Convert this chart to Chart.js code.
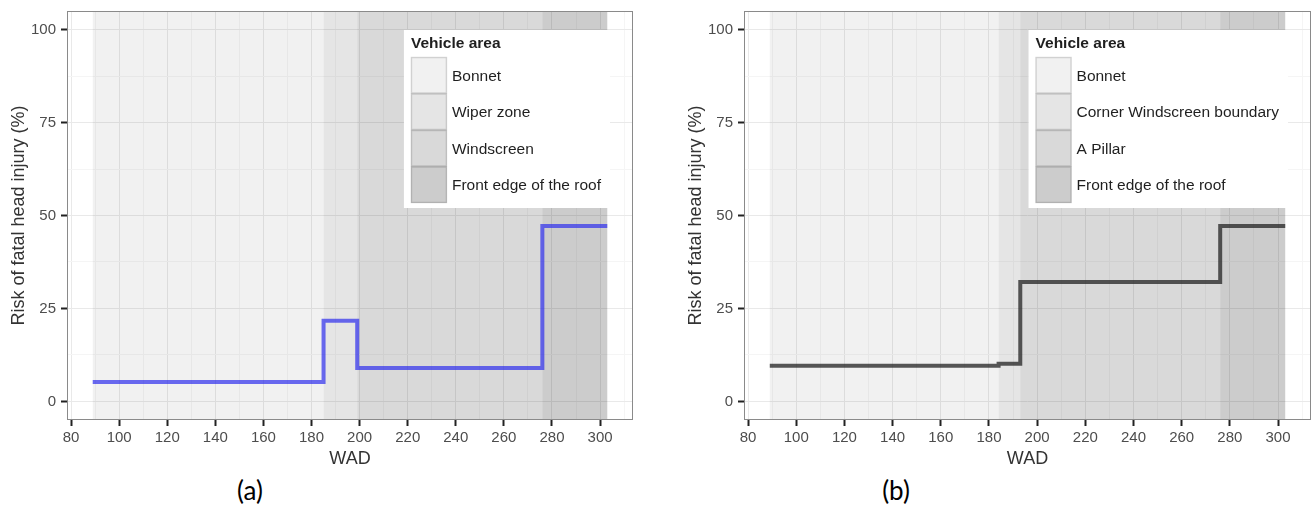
<!DOCTYPE html>
<html>
<head>
<meta charset="utf-8">
<script src="https://cdn.jsdelivr.net/npm/chart.js@4.4.1/dist/chart.umd.min.js"></script>
<style>
  body { margin: 0; width: 1314px; height: 507px; background: #fff; position: relative; overflow: hidden; }
  canvas { position: absolute; top: 0; }
  #chartA { left: 0; }
  #chartB { left: 677px; }
  .tag { position: absolute; top: 475px; width: 60px; margin-left: -30px; text-align: center;
         font: 26px Lato, "Open Sans", sans-serif; color: #000; line-height: 30px; }
</style>
</head>
<body>
<canvas id="chartA" width="650" height="470"></canvas>
<canvas id="chartB" width="637" height="470"></canvas>
<div class="tag" style="left:250px">(a)</div>
<div class="tag" style="left:896px">(b)</div>
<script>
// axis ticks
const wadTicks = [80, 100, 120, 140, 160, 180, 200, 220, 240, 260, 280, 300];
const wadMinor = [90, 110, 130, 150, 170, 190, 210, 230, 250, 270, 290, 310];
const riskTicks = [0, 25, 50, 75, 100];
const riskMinor = [12.5, 37.5, 62.5, 87.5];

// (a) vehicle areas along the wrap-around distance and the step risk curve
const areasA = ['Bonnet', 'Wiper zone', 'Windscreen', 'Front edge of the roof'];
const edgesA = [89, 185, 199, 276, 303];
const wadA = [89, 185, 199, 276, 303];
const riskA = [5.2, 21.7, 9.0, 47.2, 47.2];

// (b)
const areasB = ['Bonnet', 'Corner Windscreen boundary', 'A Pillar', 'Front edge of the roof'];
const edgesB = [89, 184, 193, 276, 303];
const wadB = [89, 184, 193, 276, 303];
const riskB = [9.6, 10.1, 32.1, 47.2, 47.2];

const shades = ['rgba(0,0,0,0.055)', 'rgba(0,0,0,0.1)', 'rgba(0,0,0,0.15)', 'rgba(0,0,0,0.2)'];
const FONT = '"Liberation Sans", Arial, sans-serif';

// translucent bands behind the curve, one per vehicle area
const areaBands = {
  id: 'areaBands',
  beforeDatasetsDraw(chart, args, opts) {
    const {ctx, chartArea, scales: {x}} = chart;
    ctx.save();
    for (let i = 0; i < opts.edges.length - 1; i++) {
      const x0 = x.getPixelForValue(opts.edges[i]);
      const x1 = x.getPixelForValue(opts.edges[i + 1]);
      ctx.fillStyle = shades[i];
      ctx.fillRect(x0, chartArea.top, x1 - x0, chartArea.bottom - chartArea.top);
    }
    ctx.restore();
  }
};

// boxed key in the top right corner of the panel
const areaLegend = {
  id: 'areaLegend',
  afterDatasetsDraw(chart, args, opts) {
    const {ctx, chartArea} = chart;
    const keyW = 36, keyH = 36.5;
    ctx.save();
    ctx.font = '15.5px ' + FONT;
    const textW = Math.max(...opts.labels.map(t => ctx.measureText(t).width));
    const w = 7 + keyW + 5 + textW + 9;
    const h = 27 + keyH * opts.labels.length + 5;
    const left = chartArea.right - 23 - w;
    const top = chartArea.top + 19;
    ctx.fillStyle = '#fff';
    ctx.fillRect(left, top, w, h);
    ctx.textBaseline = 'middle';
    ctx.fillStyle = '#1f1f1f';
    ctx.font = 'bold 15.5px ' + FONT;
    ctx.fillText(opts.title, left + 7, top + 14);
    ctx.font = '15.5px ' + FONT;
    opts.labels.forEach((label, i) => {
      const y = top + 27 + i * keyH;
      ctx.fillStyle = shades[i];
      ctx.fillRect(left + 7, y, keyW, keyH);
      ctx.strokeStyle = 'rgba(0,0,0,0.13)';
      ctx.lineWidth = 1.5;
      ctx.strokeRect(left + 7.5, y + 0.5, keyW - 1, keyH - 1);
      ctx.fillStyle = '#1f1f1f';
      ctx.fillText(label, left + 7 + keyW + 5, y + keyH / 2 + 1);
    });
    ctx.restore();
  }
};

// grey frame round the panel
const panelFrame = {
  id: 'panelFrame',
  afterDraw(chart) {
    const {ctx, chartArea: a} = chart;
    ctx.save();
    ctx.strokeStyle = '#8a8a8a';
    ctx.lineWidth = 1;
    ctx.strokeRect(Math.round(a.left) + 0.5, Math.round(a.top) + 0.5,
      Math.round(a.right - a.left) - 1, Math.round(a.bottom - a.top) - 1);
    ctx.restore();
  }
};

const isMajor = (list, v) => list.includes(v);

function makePanel(id, areas, edges, wad, risk, lineColour, padRight) {
  return new Chart(document.getElementById(id), {
    type: 'line',
    data: {
      datasets: [{
        data: wad.map((x, i) => ({x: x, y: risk[i]})),
        stepped: 'before',
        borderColor: lineColour,
        borderWidth: 4,
        borderJoinStyle: 'miter',
        pointRadius: 0,
        fill: false
      }]
    },
    options: {
      responsive: false,
      animation: false,
      devicePixelRatio: 1,
      layout: { padding: { top: 11, right: padRight, bottom: 0, left: 0 } },
      plugins: {
        legend: { display: false },
        tooltip: { enabled: false },
        areaBands: { edges: edges },
        areaLegend: { title: 'Vehicle area', labels: areas }
      },
      scales: {
        x: {
          type: 'linear', min: 78.3, max: 313.7,
          afterBuildTicks: s => { s.ticks = wadTicks.concat(wadMinor).sort((a, b) => a - b).map(v => ({value: v})); },
          afterFit: s => { s.height = 50; s.paddingLeft = 0; s.paddingRight = 0; },
          ticks: {
            callback: v => isMajor(wadTicks, v) ? v : '',
            color: '#4d4d4d', font: { family: FONT, size: 15 },
            padding: 3, maxRotation: 0, autoSkip: false
          },
          grid: {
            color: c => isMajor(wadTicks, c.tick && c.tick.value) ? '#e9e9e9' : '#f5f5f5',
            tickColor: c => isMajor(wadTicks, c.tick && c.tick.value) ? '#222' : 'rgba(0,0,0,0)',
            tickLength: 6, tickWidth: 2, lineWidth: 1
          },
          border: { display: false },
          title: { display: true, text: 'WAD', color: '#333', font: { family: FONT, size: 18 }, padding: { top: 0, bottom: 0 } }
        },
        y: {
          type: 'linear', min: -5, max: 105,
          afterBuildTicks: s => { s.ticks = riskTicks.concat(riskMinor).sort((a, b) => a - b).map(v => ({value: v})); },
          afterFit: s => { s.width = 67; s.paddingTop = 0; s.paddingBottom = 0; },
          ticks: {
            callback: v => isMajor(riskTicks, v) ? v : '',
            color: '#4d4d4d', font: { family: FONT, size: 15 },
            padding: 5, autoSkip: false
          },
          grid: {
            color: c => isMajor(riskTicks, c.tick && c.tick.value) ? '#e9e9e9' : '#f5f5f5',
            tickColor: c => isMajor(riskTicks, c.tick && c.tick.value) ? '#222' : 'rgba(0,0,0,0)',
            tickLength: 6, tickWidth: 2, lineWidth: 1
          },
          border: { display: false },
          title: { display: true, text: 'Risk of fatal head injury (%)', color: '#333', font: { family: FONT, size: 18 }, padding: { top: 8, bottom: 0 } }
        }
      }
    },
    plugins: [areaBands, areaLegend, panelFrame]
  });
}

makePanel('chartA', areasA, edgesA, wadA, riskA, 'rgba(50, 50, 235, 0.72)', 17);
makePanel('chartB', areasB, edgesB, wadB, riskB, 'rgba(45, 45, 45, 0.8)', 3);
</script>
</body>
</html>
